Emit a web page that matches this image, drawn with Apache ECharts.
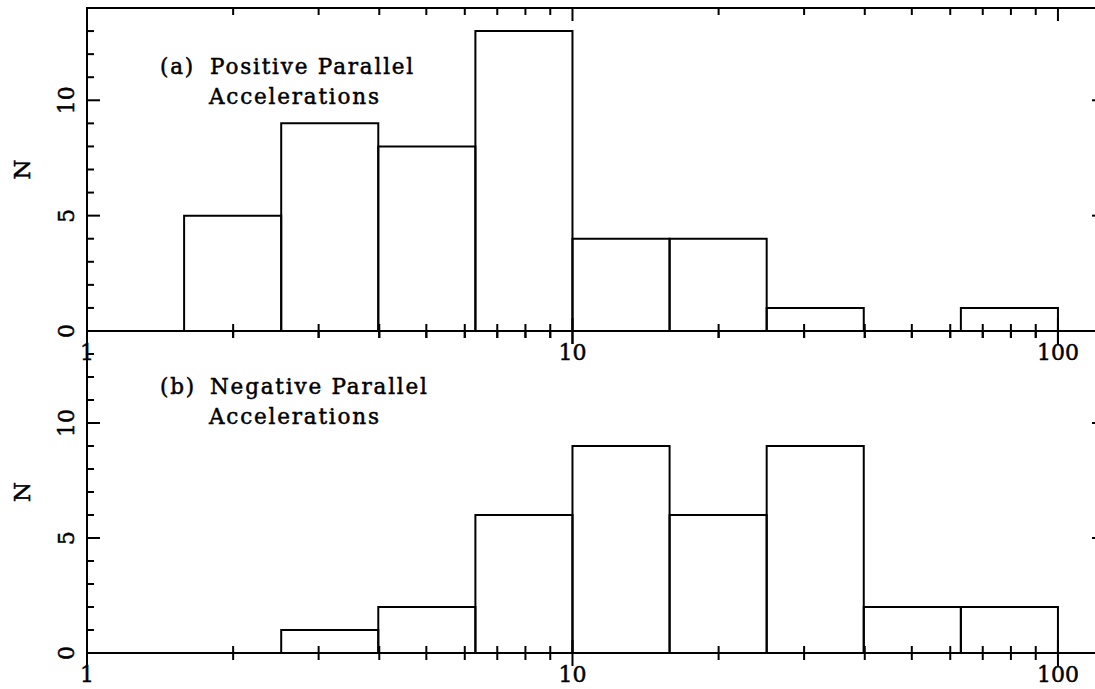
<!DOCTYPE html>
<html>
<head>
<meta charset="utf-8">
<script src="https://cdn.jsdelivr.net/npm/echarts@6/dist/echarts.min.js"></script>
<style>
html, body { margin: 0; padding: 0; background: #fff; }
#chart { width: 1095px; height: 689px; }
#chart text[style*="21.5px"] { letter-spacing: 1.8px; }
</style>
</head>
<body>
<div id="chart"></div>
<script>
// ---- data ----
const binLower = [1.585, 2.512, 3.981, 6.310, 10, 15.85, 25.12, 39.81, 63.10];
const binUpper = [2.512, 3.981, 6.310, 10, 15.85, 25.12, 39.81, 63.10, 100];
const countsPositive = [5, 9, 8, 13, 4, 4, 1, 0, 1];
const countsNegative = [0, 1, 2, 6, 9, 6, 9, 2, 2];
const xMajorTicks = [1, 10, 100];
const xMinorTicks = [2, 3, 4, 5, 6, 7, 8, 9, 20, 30, 40, 50, 60, 70, 80, 90];
const yMajorTicks = [0, 5, 10];
const yMinorTicks = [1, 2, 3, 4, 6, 7, 8, 9, 11, 12, 13];
const xTickLabels = ['1', '10', '100'];
const yTickLabels = ['0', '5', '10'];
const panelTags = ['(a)', '(b)'];
const panelTitles = ['Positive Parallel', 'Negative Parallel'];
const panelSubtitles = ['Accelerations', 'Accelerations'];
const yAxisName = 'N';

const X_MIN = 1, X_MAX = 125, Y_MIN = 0, Y_MAX = 14;
const FONT = '"DejaVu Serif", serif';
const NOTE_FONT = '21.5px ' + FONT;

// ---- build ----
const chart = echarts.init(document.getElementById('chart'), null, { renderer: 'svg' });

function histData(counts) {
  return binLower.map((lo, i) => [lo, binUpper[i], counts[i]]);
}
const tickData = [].concat(
  xMajorTicks.map(v => [v, 1, 0, 1]),
  xMinorTicks.map(v => [v, 1, 0, 0]),
  yMajorTicks.map(v => [2, v, 1, 1]),
  yMinorTicks.map(v => [2, v, 1, 0])
);

function renderBar(params, api) {
  const n = api.value(2);
  if (!n) return { type: 'group', children: [] };
  const p0 = api.coord([api.value(0), 0]);
  const p1 = api.coord([api.value(1), n]);
  return {
    type: 'rect',
    shape: { x: p0[0], y: p1[1], width: p1[0] - p0[0], height: p0[1] - p1[1] },
    style: { fill: 'none', stroke: '#000', lineWidth: 2 }
  };
}

function renderTick(params, api) {
  const kind = api.value(2), major = api.value(3);
  const len = major ? 13 : 7;
  const st = { stroke: '#000', lineWidth: 2 };
  if (kind === 0) {
    const v = api.value(0);
    const b = api.coord([v, Y_MIN]);
    const t = api.coord([v, Y_MAX]);
    return { type: 'group', children: [
      { type: 'line', shape: { x1: b[0], y1: b[1] - len, x2: b[0], y2: b[1] + len }, style: st },
      { type: 'line', shape: { x1: t[0], y1: t[1], x2: t[0], y2: t[1] + len }, style: st }
    ]};
  } else {
    const v = api.value(1);
    const l = api.coord([X_MIN, v]);
    const r = api.coord([X_MAX, v]);
    return { type: 'group', children: [
      { type: 'line', shape: { x1: l[0], y1: l[1], x2: l[0] + len, y2: l[1] }, style: st },
      { type: 'line', shape: { x1: r[0] - len, y1: r[1], x2: r[0], y2: r[1] }, style: st }
    ]};
  }
}

function xLabelFmt(v) {
  const lg = Math.log10(v);
  if (Math.abs(lg - Math.round(lg)) < 1e-6) {
    const idx = xMajorTicks.findIndex(t => Math.abs(Math.log10(t) - lg) < 1e-6);
    return idx >= 0 ? xTickLabels[idx] : '';
  }
  return '';
}
function yLabelFmt(v) {
  const idx = yMajorTicks.indexOf(v);
  return idx >= 0 ? yTickLabels[idx] : '';
}

const grids = [
  { left: 87, top: 8, width: 1018, height: 323 },
  { left: 87, top: 331, width: 1018, height: 322 }
];

const labelStyle = {
  fontSize: 22, fontFamily: FONT, color: '#000',
  textBorderColor: '#000', textBorderWidth: 0.5
};
const noteStyle = (text) => ({
  text: text, font: NOTE_FONT, fill: '#000', stroke: '#000', lineWidth: 0.5, verticalAlign: 'middle'
});

const option = {
  animation: false,
  backgroundColor: '#fff',
  grid: grids.map(g => Object.assign({
    show: true, borderColor: '#000', borderWidth: 2,
    backgroundColor: 'transparent', containLabel: false, outerBoundsMode: 'none'
  }, g)),
  xAxis: [0, 1].map(i => ({
    gridIndex: i, type: 'log', logBase: 10, min: X_MIN, max: X_MAX,
    axisLine: { show: false }, axisTick: { show: false },
    minorTick: { show: false }, splitLine: { show: false },
    axisLabel: Object.assign({ formatter: xLabelFmt, margin: 10 }, labelStyle)
  })),
  yAxis: [0, 1].map(i => ({
    gridIndex: i, type: 'value', min: Y_MIN, max: Y_MAX, interval: 5,
    name: yAxisName, nameLocation: 'middle', nameRotate: 90, nameGap: 54,
    nameTextStyle: { fontSize: 23, fontFamily: FONT, color: '#000', textBorderColor: '#000', textBorderWidth: 0.5 },
    axisLine: { show: false }, axisTick: { show: false }, splitLine: { show: false },
    axisLabel: Object.assign({ rotate: 90, formatter: yLabelFmt, margin: 10 }, labelStyle)
  })),
  series: [
    { type: 'custom', xAxisIndex: 0, yAxisIndex: 0, data: histData(countsPositive),
      encode: { x: [0, 1], y: 2 }, renderItem: renderBar, silent: true, z: 2 },
    { type: 'custom', xAxisIndex: 1, yAxisIndex: 1, data: histData(countsNegative),
      encode: { x: [0, 1], y: 2 }, renderItem: renderBar, silent: true, z: 2 },
    { type: 'custom', xAxisIndex: 0, yAxisIndex: 0, data: tickData,
      encode: { x: 0, y: 1 }, renderItem: renderTick, silent: true, z: 3 },
    { type: 'custom', xAxisIndex: 1, yAxisIndex: 1, data: tickData,
      encode: { x: 0, y: 1 }, renderItem: renderTick, silent: true, z: 3 }
  ],
  graphic: [
    { type: 'text', x: 160, y: 66, style: noteStyle(panelTags[0]) },
    { type: 'text', x: 210, y: 66, style: noteStyle(panelTitles[0]) },
    { type: 'text', x: 209, y: 96, style: noteStyle(panelSubtitles[0]) },
    { type: 'text', x: 160, y: 386, style: noteStyle(panelTags[1]) },
    { type: 'text', x: 210, y: 386, style: noteStyle(panelTitles[1]) },
    { type: 'text', x: 209, y: 416, style: noteStyle(panelSubtitles[1]) }
  ]
};
chart.setOption(option);
</script>
</body>
</html>
